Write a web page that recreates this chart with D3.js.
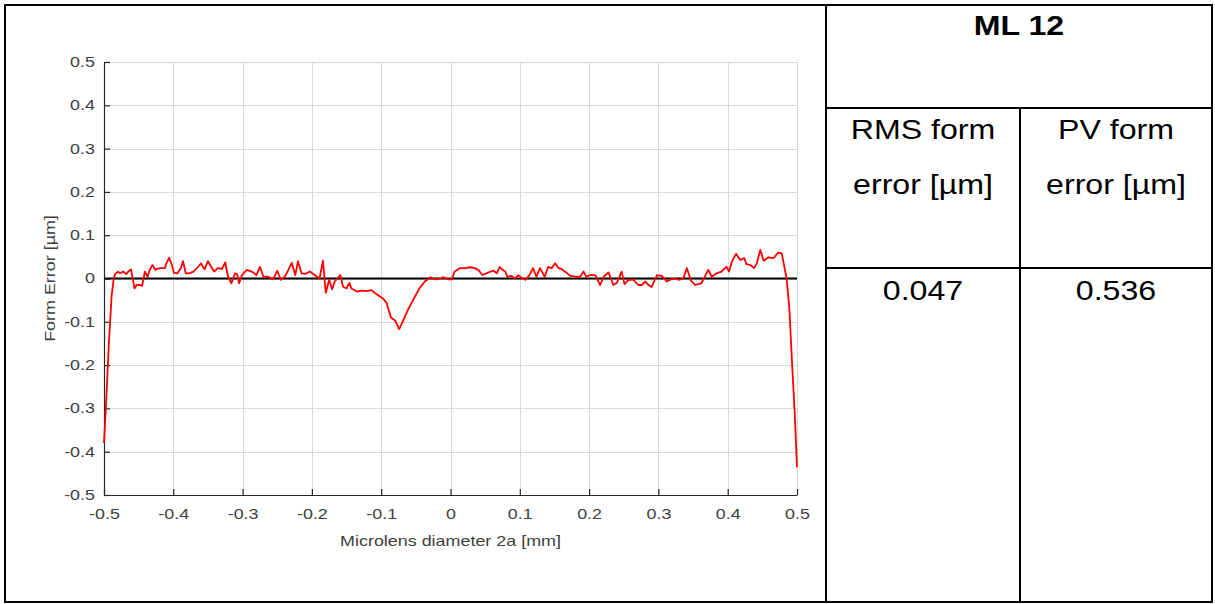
<!DOCTYPE html>
<html>
<head>
<meta charset="utf-8">
<script src="https://cdn.jsdelivr.net/npm/d3@7"></script>
<style>
body{margin:0;background:#fff;}
svg{display:block;}
</style>
</head>
<body>
<svg id="chart" width="1215" height="604"></svg>
<script>
// ---------- data ----------
const xTicks = [-0.5,-0.4,-0.3,-0.2,-0.1,0,0.1,0.2,0.3,0.4,0.5];
const yTicks = [-0.5,-0.4,-0.3,-0.2,-0.1,0,0.1,0.2,0.3,0.4,0.5];
const xLabel = "Microlens diameter 2a [mm]";
const yLabel = "Form Error [µm]";

const xValues = [
-0.500,-0.497,-0.493,-0.489,-0.486,-0.484,-0.480,-0.477,-0.472,-0.468,-0.465,-0.461,-0.456,-0.453,-0.448,-0.445,
-0.441,-0.437,-0.434,-0.430,-0.426,-0.422,-0.417,-0.412,-0.410,-0.406,-0.402,-0.399,-0.394,-0.389,-0.386,-0.382,
-0.377,-0.371,-0.364,-0.360,-0.355,-0.350,-0.346,-0.341,-0.336,-0.330,-0.325,-0.321,-0.316,-0.311,-0.308,-0.305,
-0.301,-0.294,-0.287,-0.280,-0.275,-0.270,-0.263,-0.256,-0.250,-0.245,-0.239,-0.234,-0.229,-0.224,-0.220,-0.215,
-0.209,-0.203,-0.196,-0.189,-0.184,-0.180,-0.175,-0.171,-0.167,-0.159,-0.155,-0.150,-0.146,-0.143,-0.135,-0.128,
-0.121,-0.114,-0.107,-0.097,-0.092,-0.086,-0.080,-0.074,-0.068,-0.061,-0.054,-0.045,-0.037,-0.029,-0.022,-0.015,
-0.010,-0.003,0.002,0.006,0.014,0.021,0.028,0.035,0.040,0.046,0.055,0.062,0.067,0.071,0.075,0.079,
0.082,0.088,0.093,0.098,0.102,0.108,0.114,0.119,0.124,0.129,0.136,0.141,0.146,0.151,0.156,0.160,
0.165,0.173,0.182,0.187,0.192,0.196,0.201,0.209,0.216,0.221,0.228,0.235,0.240,0.247,0.251,0.257,
0.264,0.271,0.276,0.281,0.286,0.290,0.298,0.305,0.312,0.318,0.324,0.330,0.336,0.341,0.347,0.353,
0.362,0.372,0.377,0.384,0.391,0.398,0.402,0.406,0.412,0.418,0.424,0.427,0.433,0.438,0.442,0.447,
0.452,0.459,0.466,0.473,0.478,0.485,0.489,0.493,0.497,0.500
];
const formError = [
-0.380,-0.290,-0.150,-0.040,0.000,0.010,0.016,0.012,0.016,0.010,0.016,0.021,-0.023,-0.015,-0.015,-0.017,
0.016,0.004,0.020,0.031,0.020,0.023,0.024,0.024,0.035,0.048,0.031,0.013,0.012,0.024,0.040,0.012,
0.012,0.016,0.027,0.035,0.021,0.040,0.029,0.016,0.024,0.022,0.037,0.004,-0.011,0.012,0.010,-0.011,
0.008,0.020,0.016,0.008,0.027,0.004,0.004,-0.002,0.018,-0.003,0.004,0.020,0.036,0.008,0.040,0.012,
0.011,0.016,0.008,0.000,0.041,-0.033,-0.003,-0.025,-0.007,0.008,-0.019,-0.023,-0.010,-0.023,-0.030,-0.028,
-0.029,-0.027,-0.036,-0.047,-0.057,-0.090,-0.097,-0.117,-0.096,-0.071,-0.050,-0.023,-0.007,0.003,-0.002,0.000,
0.003,-0.002,-0.002,0.016,0.024,0.024,0.026,0.024,0.020,0.008,0.014,0.018,0.012,0.027,0.020,0.016,
0.004,0.006,0.000,0.008,0.002,-0.003,0.008,0.024,0.004,0.024,0.004,0.027,0.024,0.035,0.024,0.022,
0.016,0.006,0.004,0.004,0.016,0.004,0.008,0.008,-0.015,0.004,0.014,-0.015,-0.010,0.016,-0.013,-0.003,
-0.003,-0.015,-0.015,-0.007,-0.015,-0.020,0.008,0.006,-0.007,-0.002,0.000,-0.003,0.000,0.024,-0.005,-0.015,
-0.011,0.020,0.004,0.012,0.016,0.027,0.016,0.039,0.057,0.043,0.047,0.033,0.031,0.024,0.035,0.066,
0.041,0.049,0.047,0.060,0.058,0.000,-0.070,-0.200,-0.320,-0.436
];

const tableTitle = "ML 12";
const tableHeaders = [["RMS form","error [µm]"],["PV form","error [µm]"]];
const tableValues = ["0.047","0.536"];

// ---------- layout ----------
const svg = d3.select("#chart");
const plot = {left:104, right:797, top:62, bottom:495};
const sx = 1.28;       // horizontal stretch of the chart text
const tsx = 1.19;      // horizontal stretch of the table text
const axisColor = "#262626";
const textColor = "#404040";

svg.append("rect").attr("width",1215).attr("height",604).attr("fill","#fff");

const x = d3.scaleLinear().domain([-0.5,0.5]).range([plot.left,plot.right]);
const y = d3.scaleLinear().domain([-0.5,0.5]).range([plot.bottom,plot.top]);

// grid
const grid = svg.append("g").attr("stroke","#dadada").attr("stroke-width",1);
grid.selectAll("line.gx").data(xTicks.slice(1)).join("line")
  .attr("x1",d=>Math.round(x(d))+0.5).attr("x2",d=>Math.round(x(d))+0.5)
  .attr("y1",plot.top).attr("y2",plot.bottom);
grid.selectAll("line.gy").data(yTicks.slice(1)).join("line")
  .attr("y1",d=>Math.round(y(d))+0.5).attr("y2",d=>Math.round(y(d))+0.5)
  .attr("x1",plot.left).attr("x2",plot.right);

const fmt = d => String(+d.toFixed(1));

// axes
const gx = svg.append("g").attr("transform",`translate(0,${plot.bottom})`)
  .call(d3.axisBottom(x).tickValues(xTicks).tickFormat(fmt).tickSizeInner(-6).tickSizeOuter(0).tickPadding(14));
const gy = svg.append("g").attr("transform",`translate(${plot.left},0)`)
  .call(d3.axisLeft(y).tickValues(yTicks).tickFormat(fmt).tickSizeInner(-6).tickSizeOuter(0).tickPadding(9));
[gx,gy].forEach(g=>{
  g.select(".domain").attr("stroke",axisColor).attr("stroke-width",1.2);
  g.selectAll(".tick line").attr("stroke",axisColor).attr("stroke-width",1.2);
  g.selectAll(".tick text").attr("fill",textColor)
    .style("font-family","'Liberation Sans', Arial, Helvetica, sans-serif")
    .style("font-size","14px");
});
gx.selectAll(".tick text").attr("transform",`scale(${sx},1)`);
gy.selectAll(".tick text").attr("x",-9/sx).attr("transform",`scale(${sx},1)`);

// axis labels
svg.append("text")
  .attr("transform",`translate(${(plot.left+plot.right)/2},546) scale(${sx},1)`)
  .attr("text-anchor","middle").attr("fill",textColor)
  .style("font-family","'Liberation Sans', Arial, sans-serif").style("font-size","14px")
  .text(xLabel);
svg.append("text")
  .attr("transform",`translate(55,${(plot.top+plot.bottom)/2}) rotate(-90) scale(${sx},1)`)
  .attr("text-anchor","middle").attr("fill",textColor)
  .style("font-family","'Liberation Sans', Arial, sans-serif").style("font-size","14px")
  .text(yLabel);

// zero line
svg.append("line")
  .attr("x1",x(-0.5)).attr("x2",x(0.5)).attr("y1",y(0)).attr("y2",y(0))
  .attr("stroke","#000").attr("stroke-width",2);

// data line
const pts = xValues.map((v,i)=>[v,formError[i]]);
svg.append("path").datum(pts)
  .attr("fill","none").attr("stroke","#ff0000").attr("stroke-width",1.8)
  .attr("stroke-linejoin","round")
  .attr("d",d3.line().x(d=>x(d[0])).y(d=>y(d[1])));

// ---------- table / frame ----------
const frame = svg.append("g").attr("stroke","#000").attr("stroke-width",2).attr("fill","none");
frame.append("rect").attr("x",5).attr("y",5).attr("width",1207).attr("height",597);
frame.append("line").attr("x1",826).attr("x2",826).attr("y1",5).attr("y2",602);
frame.append("line").attr("x1",826).attr("x2",1212).attr("y1",108).attr("y2",108);
frame.append("line").attr("x1",826).attr("x2",1212).attr("y1",268).attr("y2",268);
frame.append("line").attr("x1",1020).attr("x2",1020).attr("y1",108).attr("y2",602);

const colCenters = [923,1116];
function tText(txt,cx,by,bold){
  svg.append("text")
    .attr("transform",`translate(${cx},${by}) scale(${tsx},1)`)
    .attr("text-anchor","middle").attr("fill","#000")
    .style("font-family","'Liberation Sans', Arial, sans-serif")
    .style("font-size","27px").style("font-weight",bold?"bold":"normal")
    .text(txt);
}
tText(tableTitle,1019,35,true);
tableHeaders.forEach((h,i)=>{
  tText(h[0],colCenters[i],139,false);
  tText(h[1],colCenters[i],194,false);
});
tableValues.forEach((v,i)=>tText(v,colCenters[i],300,false));
</script>
</body>
</html>
